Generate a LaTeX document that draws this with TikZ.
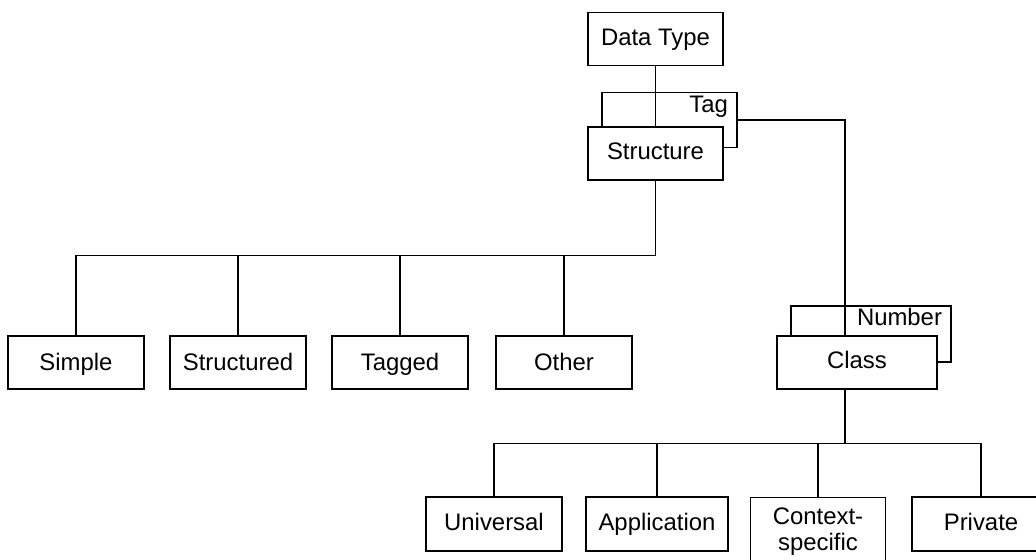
\documentclass[tikz,border=0pt]{standalone}
\usepackage{fontspec}
\setmainfont{Liberation Sans}
\usetikzlibrary{calc}

\begin{document}
\begin{tikzpicture}[x=0.02cm,y=-0.02cm,line width=0.6pt,
    font=\fontsize{13.6}{15}\selectfont,
    box/.style={draw,fill=white,minimum width=2.72cm,minimum height=1.06cm,
        inner sep=0pt,text height=0.72em,text depth=0pt},
    lowbox/.style={box,text height=0.9em},
    backbox/.style={draw,minimum height=1.1cm,inner sep=0pt},
    cornerlbl/.style={anchor=north east,inner sep=0pt,text height=0.72em,text depth=0pt}]
                \useasboundingbox (0,0) rectangle (1036,559);
                \clip (0,0) rectangle (1036,559);

                % Data Type
                \node[box,minimum width=2.7cm] (dtype) at (655.5,39) {Data Type};

                % Tag behind Structure
                \node[backbox,minimum width=2.7cm] (tag) at (669.5,120) {};
                \node[cornerlbl] (taglbl) at ($(tag.north east)+(-9,7)$) {Tag};
                \node[box,minimum width=2.7cm] (struct) at (655.5,153.5) {Structure};

                % Number behind Class
                \node[backbox,minimum width=3.2cm,minimum height=1.12cm] (number) at (871,334) {};
                \node[cornerlbl] (numlbl) at ($(number.north east)+(-9,7)$) {Number};
                \node[box,minimum width=3.2cm] (cls) at (857,362.5) {Class};

                % Structure kinds
                \node[lowbox] (simple) at (76,362.5) {Simple};
                \node[lowbox] (structd) at (238,362.5) {Structured};
                \node[lowbox] (tagged) at (400,362.5) {Tagged};
                \node[lowbox] (other) at (564,362.5) {Other};

                % Class kinds
                \node[box,minimum height=1.08cm] (universal) at (494,524) {Universal};
                \node[box,minimum width=2.84cm,minimum height=1.08cm] (appl) at (657,524) {Application};
                \node[draw,fill=white,minimum width=2.7cm,inner xsep=0pt,inner ysep=0.2cm,
                    align=center,anchor=north] (context) at (818,497) {Context-\\specific};
                \node[box,minimum width=2.76cm,minimum height=1.08cm] (private) at (981,524) {Private};

                % Links
                \draw (dtype.south) -- (struct.north);
                \coordinate (clsin) at ($(cls.north)+(-12,0)$);
                \coordinate (clsout) at ($(cls.south)+(-12,0)$);
                \draw (tag.east) -| (clsin);

                \draw (struct.south) -- ++(0,75) coordinate (bus1);
                \foreach \n in {simple,structd,tagged,other}
                    \draw (\n.north) |- (bus1);

                \draw (clsout) -- ++(0,54) coordinate (bus2);
                \foreach \n in {universal,appl,context,private}
                    \draw (\n.north) |- (bus2);
            \end{tikzpicture}
\end{document}
